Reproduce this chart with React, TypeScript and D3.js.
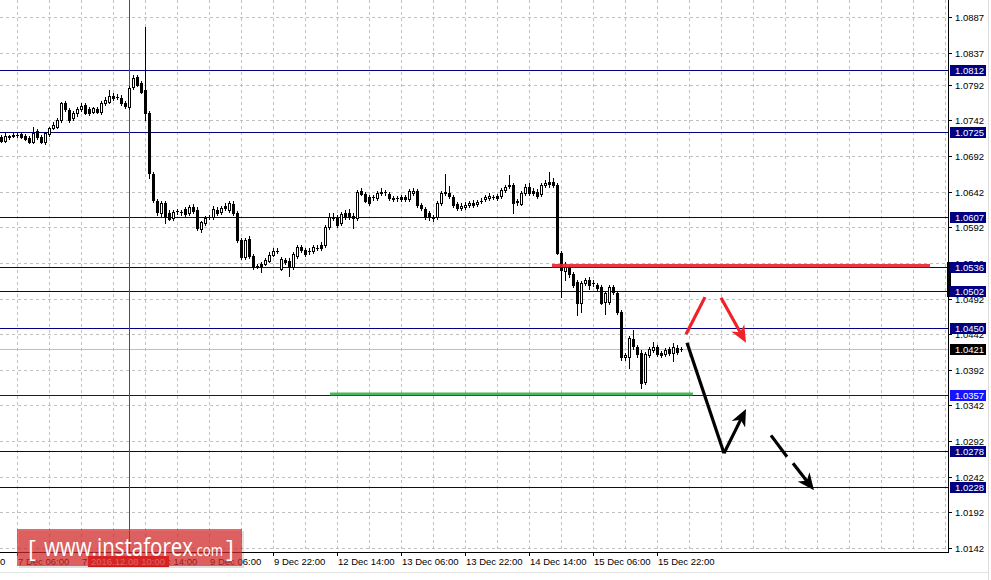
import React, { useEffect, useRef } from 'react';
import * as d3 from 'd3';

// EURUSD H1 bars, 7 Dec 02:00 .. 16 Dec 04:00 (weekend bars skipped) : [open, high, low, close]
const ohlc: [number, number, number, number][] = [
  [1.0719, 1.0722, 1.0712, 1.0713], [1.0713, 1.0726, 1.0712, 1.0720], [1.0720, 1.0722, 1.0716, 1.0719],
  [1.0720, 1.0724, 1.0719, 1.0722], [1.0722, 1.0724, 1.0719, 1.0722], [1.0723, 1.0726, 1.0717, 1.0719],
  [1.0720, 1.0723, 1.0714, 1.0716], [1.0717, 1.0720, 1.0710, 1.0712], [1.0712, 1.0733, 1.0710, 1.0724],
  [1.0727, 1.0730, 1.0716, 1.0719], [1.0719, 1.0722, 1.0710, 1.0712], [1.0712, 1.0726, 1.0709, 1.0724],
  [1.0723, 1.0733, 1.0720, 1.0731], [1.0731, 1.0740, 1.0730, 1.0736], [1.0733, 1.0745, 1.0731, 1.0743],
  [1.0743, 1.0768, 1.0740, 1.0766], [1.0766, 1.0769, 1.0755, 1.0758], [1.0757, 1.0759, 1.0740, 1.0743],
  [1.0745, 1.0755, 1.0742, 1.0752], [1.0752, 1.0761, 1.0748, 1.0758], [1.0758, 1.0766, 1.0755, 1.0762],
  [1.0764, 1.0766, 1.0751, 1.0752], [1.0758, 1.0761, 1.0749, 1.0752], [1.0754, 1.0761, 1.0752, 1.0759],
  [1.0758, 1.0761, 1.0752, 1.0754], [1.0754, 1.0769, 1.0751, 1.0766], [1.0766, 1.0775, 1.0764, 1.0771],
  [1.0768, 1.0785, 1.0766, 1.0776], [1.0776, 1.0781, 1.0771, 1.0774], [1.0775, 1.0779, 1.0772, 1.0775],
  [1.0774, 1.0778, 1.0764, 1.0766], [1.0766, 1.0769, 1.0759, 1.0762], [1.0761, 1.0790, 1.0758, 1.0788],
  [1.0789, 1.0806, 1.0786, 1.0801], [1.0803, 1.0806, 1.0790, 1.0792], [1.0794, 1.0797, 1.0780, 1.0782],
  [1.0785, 1.0873, 1.0743, 1.0752], [1.0752, 1.0755, 1.0661, 1.0668], [1.0667, 1.0669, 1.0627, 1.0630],
  [1.0629, 1.0632, 1.0609, 1.0613], [1.0612, 1.0629, 1.0608, 1.0626], [1.0626, 1.0629, 1.0598, 1.0606],
  [1.0612, 1.0616, 1.0602, 1.0604], [1.0605, 1.0616, 1.0602, 1.0613], [1.0615, 1.0618, 1.0611, 1.0615],
  [1.0613, 1.0616, 1.0609, 1.0614], [1.0618, 1.0620, 1.0608, 1.0611], [1.0612, 1.0623, 1.0609, 1.0620],
  [1.0620, 1.0625, 1.0612, 1.0615], [1.0616, 1.0620, 1.0588, 1.0591], [1.0589, 1.0601, 1.0586, 1.0599],
  [1.0598, 1.0608, 1.0595, 1.0605], [1.0606, 1.0609, 1.0604, 1.0606], [1.0606, 1.0622, 1.0604, 1.0618],
  [1.0616, 1.0620, 1.0609, 1.0612], [1.0613, 1.0622, 1.0611, 1.0619], [1.0622, 1.0626, 1.0616, 1.0619],
  [1.0616, 1.0629, 1.0613, 1.0626], [1.0625, 1.0629, 1.0609, 1.0612], [1.0612, 1.0615, 1.0571, 1.0574],
  [1.0574, 1.0577, 1.0547, 1.0550], [1.0550, 1.0577, 1.0547, 1.0574], [1.0575, 1.0580, 1.0549, 1.0552],
  [1.0552, 1.0554, 1.0534, 1.0536], [1.0538, 1.0541, 1.0535, 1.0538], [1.0541, 1.0543, 1.0529, 1.0537],
  [1.0541, 1.0549, 1.0539, 1.0546], [1.0545, 1.0557, 1.0543, 1.0553], [1.0553, 1.0563, 1.0552, 1.0559],
  [1.0559, 1.0563, 1.0556, 1.0559], [1.0534, 1.0550, 1.0532, 1.0547], [1.0546, 1.0549, 1.0541, 1.0543],
  [1.0545, 1.0549, 1.0524, 1.0536], [1.0536, 1.0557, 1.0534, 1.0554], [1.0552, 1.0567, 1.0549, 1.0564],
  [1.0564, 1.0567, 1.0557, 1.0560], [1.0560, 1.0563, 1.0552, 1.0554], [1.0559, 1.0563, 1.0555, 1.0559],
  [1.0559, 1.0567, 1.0556, 1.0564], [1.0563, 1.0567, 1.0560, 1.0563], [1.0567, 1.0571, 1.0560, 1.0563],
  [1.0567, 1.0595, 1.0564, 1.0592], [1.0592, 1.0612, 1.0589, 1.0606], [1.0605, 1.0612, 1.0602, 1.0605],
  [1.0605, 1.0609, 1.0592, 1.0595], [1.0598, 1.0613, 1.0595, 1.0611], [1.0612, 1.0616, 1.0604, 1.0606],
  [1.0612, 1.0618, 1.0603, 1.0606], [1.0608, 1.0612, 1.0591, 1.0605], [1.0605, 1.0644, 1.0602, 1.0642],
  [1.0643, 1.0647, 1.0637, 1.0639], [1.0639, 1.0642, 1.0627, 1.0629], [1.0634, 1.0637, 1.0623, 1.0626],
  [1.0634, 1.0637, 1.0630, 1.0634], [1.0633, 1.0643, 1.0630, 1.0640], [1.0642, 1.0647, 1.0637, 1.0640],
  [1.0641, 1.0644, 1.0637, 1.0641], [1.0639, 1.0642, 1.0630, 1.0633], [1.0633, 1.0636, 1.0629, 1.0632],
  [1.0633, 1.0636, 1.0629, 1.0633], [1.0634, 1.0637, 1.0629, 1.0632], [1.0634, 1.0637, 1.0629, 1.0632],
  [1.0632, 1.0645, 1.0629, 1.0643], [1.0640, 1.0647, 1.0637, 1.0643], [1.0643, 1.0646, 1.0620, 1.0623],
  [1.0623, 1.0626, 1.0616, 1.0619], [1.0618, 1.0620, 1.0603, 1.0606], [1.0612, 1.0615, 1.0602, 1.0606],
  [1.0606, 1.0609, 1.0601, 1.0605], [1.0606, 1.0629, 1.0604, 1.0626], [1.0626, 1.0643, 1.0623, 1.0640],
  [1.0640, 1.0667, 1.0637, 1.0641], [1.0640, 1.0650, 1.0633, 1.0636], [1.0634, 1.0637, 1.0620, 1.0623],
  [1.0625, 1.0627, 1.0616, 1.0619], [1.0619, 1.0626, 1.0616, 1.0622], [1.0620, 1.0627, 1.0617, 1.0623],
  [1.0623, 1.0629, 1.0620, 1.0626], [1.0626, 1.0630, 1.0620, 1.0623], [1.0625, 1.0630, 1.0622, 1.0627],
  [1.0629, 1.0633, 1.0626, 1.0629], [1.0632, 1.0637, 1.0629, 1.0634], [1.0633, 1.0640, 1.0630, 1.0636],
  [1.0634, 1.0637, 1.0632, 1.0635], [1.0636, 1.0639, 1.0630, 1.0633], [1.0636, 1.0647, 1.0633, 1.0644],
  [1.0644, 1.0651, 1.0642, 1.0649], [1.0650, 1.0666, 1.0647, 1.0651], [1.0651, 1.0654, 1.0612, 1.0626],
  [1.0628, 1.0632, 1.0623, 1.0629], [1.0625, 1.0643, 1.0623, 1.0640], [1.0640, 1.0653, 1.0637, 1.0649],
  [1.0649, 1.0654, 1.0637, 1.0640], [1.0643, 1.0647, 1.0637, 1.0640], [1.0642, 1.0645, 1.0633, 1.0636],
  [1.0639, 1.0654, 1.0636, 1.0651], [1.0651, 1.0658, 1.0649, 1.0654], [1.0656, 1.0670, 1.0649, 1.0652],
  [1.0656, 1.0661, 1.0648, 1.0651], [1.0651, 1.0654, 1.0554, 1.0556], [1.0556, 1.0559, 1.0494, 1.0532],
  [1.0531, 1.0543, 1.0518, 1.0536], [1.0535, 1.0538, 1.0522, 1.0526], [1.0526, 1.0529, 1.0508, 1.0511],
  [1.0515, 1.0518, 1.0469, 1.0486], [1.0486, 1.0517, 1.0473, 1.0514], [1.0514, 1.0521, 1.0511, 1.0518],
  [1.0518, 1.0522, 1.0505, 1.0511], [1.0514, 1.0518, 1.0510, 1.0514], [1.0511, 1.0514, 1.0504, 1.0507],
  [1.0508, 1.0511, 1.0484, 1.0486], [1.0487, 1.0501, 1.0470, 1.0500], [1.0487, 1.0511, 1.0484, 1.0508],
  [1.0508, 1.0511, 1.0498, 1.0501], [1.0500, 1.0503, 1.0470, 1.0473], [1.0473, 1.0476, 1.0406, 1.0410],
  [1.0410, 1.0415, 1.0406, 1.0413], [1.0410, 1.0440, 1.0395, 1.0437], [1.0435, 1.0448, 1.0421, 1.0425],
  [1.0424, 1.0427, 1.0410, 1.0414], [1.0416, 1.0420, 1.0366, 1.0374], [1.0375, 1.0417, 1.0372, 1.0414],
  [1.0413, 1.0424, 1.0410, 1.0421], [1.0420, 1.0431, 1.0417, 1.0424], [1.0424, 1.0427, 1.0411, 1.0414],
  [1.0416, 1.0418, 1.0410, 1.0413], [1.0414, 1.0423, 1.0411, 1.0420], [1.0421, 1.0424, 1.0413, 1.0416],
  [1.0416, 1.0430, 1.0405, 1.0424], [1.0423, 1.0427, 1.0414, 1.0417], [1.0421, 1.0424, 1.0418, 1.0421],
];

const priceTicks = [1.0887, 1.0837, 1.0792, 1.0742, 1.0692, 1.0642, 1.0592, 1.0542,
  1.0492, 1.0442, 1.0392, 1.0342, 1.0292, 1.0242, 1.0192, 1.0142];

// [bar index, label]
const timeLabels: [number, string][] = [
  [-12, '6 Dec 14:00'], [4, '7 Dec 06:00'], [20, '7 Dec 22:00'], [36, '8 Dec 14:00'],
  [52, '9 Dec 06:00'], [68, '9 Dec 22:00'], [84, '12 Dec 14:00'], [100, '13 Dec 06:00'],
  [116, '13 Dec 22:00'], [132, '14 Dec 14:00'], [148, '15 Dec 06:00'], [164, '15 Dec 22:00'],
];

const levels = [1.0812, 1.0725, 1.0607, 1.0536, 1.0502, 1.0450, 1.0357, 1.0278, 1.0228];
const lastPrice = 1.0421;
const crosshair: [number, string] = [32, '2016.12.08 10:00'];

// drawn objects, in [bar index, price]
const resistance: [number, number][] = [[137.75, 1.0538], [232.25, 1.0538]];
const support: [number, number][] = [[82.25, 1.0358], [173, 1.0358]];
const redUp: [number, number][] = [[171.25, 1.0442], [176, 1.0494]];
const redDown: [number, number][] = [[180, 1.0493], [186.25, 1.0430]];
const blackDown: [number, number][] = [[171.5, 1.0430], [180.75, 1.0275]];
const blackUp: [number, number][] = [[180.75, 1.0275], [186.25, 1.0337]];
const dash1: [number, number][] = [[192.5, 1.0300], [196.5, 1.0270]];
const dash2: [number, number][] = [[198, 1.0261], [203.25, 1.0223]];

const App = () => {
  const svgRef = useRef<SVGSVGElement>(null);

  useEffect(() => {
    const svg = d3.select(svgRef.current);
    svg.selectAll('*').remove();

    const width = 991;
    const height = 580;
    const plotRight = 948;
    const plotBottom = 552;
    const font = "'Liberation Sans', Arial, sans-serif";

    const x = d3.scaleLinear().domain([0, 1]).range([1, 5]); // 4px per bar
    const y = d3.scaleLinear().domain([1.0142, 1.0887]).range([548, 17]);
    const py = (v: number) => Math.round(y(v));

    svg.append('rect').attr('width', width).attr('height', height).attr('fill', '#fff');

    svg.append('defs').append('clipPath').attr('id', 'plot')
      .append('rect').attr('x', 0).attr('y', 0).attr('width', plotRight).attr('height', plotBottom);

    const plot = svg.append('g').attr('clip-path', 'url(#plot)');

    // grid
    const vGrid = d3.range(-4, 240, 8).filter(i => x(i) > 0 && x(i) < plotRight);
    plot.selectAll('.vg').data(vGrid).enter().append('line')
      .attr('x1', d => Math.round(x(d)) + 0.5).attr('x2', d => Math.round(x(d)) + 0.5)
      .attr('y1', 0).attr('y2', plotBottom)
      .attr('stroke', '#c0c0c0').attr('stroke-dasharray', '3,3');
    plot.selectAll('.hg').data(priceTicks).enter().append('line')
      .attr('x1', 0).attr('x2', plotRight)
      .attr('y1', d => py(d) + 0.5).attr('y2', d => py(d) + 0.5)
      .attr('stroke', '#c0c0c0').attr('stroke-dasharray', '3,3');

    // levels
    plot.selectAll('.lvl').data(levels).enter().append('line')
      .attr('x1', 0).attr('x2', plotRight)
      .attr('y1', d => py(d) + 0.5).attr('y2', d => py(d) + 0.5)
      .attr('stroke', d => (d === 1.0357 ? '#0000ff' : '#000080'));
    plot.append('line')
      .attr('x1', 0).attr('x2', plotRight)
      .attr('y1', py(lastPrice) + 0.5).attr('y2', py(lastPrice) + 0.5)
      .attr('stroke', '#c0c0c0');

    // crosshair
    plot.append('line')
      .attr('x1', x(crosshair[0]) + 0.5).attr('x2', x(crosshair[0]) + 0.5)
      .attr('y1', 0).attr('y2', plotBottom)
      .attr('stroke', '#d01818');

    // candles
    const bars = plot.append('g');
    ohlc.forEach(([o, h, l, c], i) => {
      const cx = Math.round(x(i));
      bars.append('line')
        .attr('x1', cx + 0.5).attr('x2', cx + 0.5)
        .attr('y1', py(h)).attr('y2', py(l) + 1)
        .attr('stroke', '#000');
      const top = py(Math.max(o, c));
      const bot = py(Math.min(o, c));
      if (c < o || bot - top < 2) {
        bars.append('rect').attr('x', cx - 1).attr('y', top)
          .attr('width', 3).attr('height', Math.max(1, bot - top + 1)).attr('fill', '#000');
      } else {
        bars.append('rect').attr('x', cx - 0.5).attr('y', top + 0.5)
          .attr('width', 2).attr('height', bot - top)
          .attr('fill', '#fff').attr('stroke', '#000');
      }
    });

    // support / resistance marks
    const line = d3.line<[number, number]>().x(d => x(d[0])).y(d => y(d[1]));
    plot.append('path').attr('d', line(resistance)).attr('stroke', '#e8242c')
      .attr('stroke-width', 3.5).attr('stroke-opacity', 0.9).attr('fill', 'none');
    plot.append('path').attr('d', line(support)).attr('stroke', '#33b04a')
      .attr('stroke-width', 3).attr('stroke-opacity', 0.9).attr('fill', 'none');

    const drawArrow = (pts: [number, number][], color: string, head: boolean) => {
      const [x1, y1] = [x(pts[0][0]), y(pts[0][1])];
      const [x2, y2] = [x(pts[1][0]), y(pts[1][1])];
      const len = Math.hypot(x2 - x1, y2 - y1);
      const ux = (x2 - x1) / len;
      const uy = (y2 - y1) / len;
      const hl = 17;
      const hw = 7.5;
      const end = head ? [x2 - ux * hl * 0.6, y2 - uy * hl * 0.6] : [x2, y2];
      plot.append('line')
        .attr('x1', x1).attr('y1', y1).attr('x2', end[0]).attr('y2', end[1])
        .attr('stroke', color).attr('stroke-width', 3.2);
      if (head) {
        const bx = x2 - ux * hl;
        const by = y2 - uy * hl;
        const pts2 = [
          [x2, y2],
          [bx - uy * hw, by + ux * hw],
          [x2 - ux * hl * 0.7, y2 - uy * hl * 0.7],
          [bx + uy * hw, by - ux * hw],
        ];
        plot.append('polygon').attr('points', pts2.map(p => p.join(',')).join(' ')).attr('fill', color);
      }
    };
    drawArrow(redUp, '#ee2229', false);
    drawArrow(redDown, '#ee2229', true);
    drawArrow(blackDown, '#000', false);
    drawArrow(blackUp, '#000', true);
    drawArrow(dash1, '#000', false);
    drawArrow(dash2, '#000', true);

    // frame
    svg.append('line').attr('x1', plotRight + 0.5).attr('x2', plotRight + 0.5)
      .attr('y1', 0).attr('y2', plotBottom + 1).attr('stroke', '#000');
    svg.append('line').attr('x1', 0).attr('x2', plotRight + 1)
      .attr('y1', plotBottom + 0.5).attr('y2', plotBottom + 0.5).attr('stroke', '#000');
    svg.append('line').attr('x1', 988.5).attr('x2', 988.5).attr('y1', 0).attr('y2', height).attr('stroke', '#dcdcdc');
    svg.append('line').attr('x1', 0).attr('x2', 988).attr('y1', 572.5).attr('y2', 572.5).attr('stroke', '#e4e4e4');

    // price axis
    svg.selectAll('.pt').data(priceTicks).enter().append('line')
      .attr('x1', plotRight).attr('x2', plotRight + 4)
      .attr('y1', d => py(d) + 0.5).attr('y2', d => py(d) + 0.5).attr('stroke', '#000');
    svg.selectAll('.pl').data(priceTicks).enter().append('text')
      .attr('x', 955).attr('y', d => py(d) + 4)
      .attr('font-family', font).attr('font-size', 9.5).attr('fill', '#000')
      .text(d => d.toFixed(4));

    svg.append('rect').attr('x', 947).attr('y', 262).attr('width', 4).attr('height', 35).attr('fill', '#000');

    const boxes = [...levels.map(v => ({ v, fill: v === 1.0357 ? '#1414ff' : '#000080' })), { v: lastPrice, fill: '#000' }];
    boxes.forEach(b => {
      svg.append('rect').attr('x', 950).attr('y', py(b.v) - 5).attr('width', 36).attr('height', 11).attr('fill', b.fill);
      svg.append('text').attr('x', 955).attr('y', py(b.v) + 4)
        .attr('font-family', font).attr('font-size', 9.5).attr('fill', '#fff')
        .text(b.v.toFixed(4));
    });

    // time axis
    svg.selectAll('.tt').data(timeLabels).enter().append('line')
      .attr('x1', d => x(d[0]) + 0.5).attr('x2', d => x(d[0]) + 0.5)
      .attr('y1', plotBottom).attr('y2', plotBottom + 4).attr('stroke', '#000');
    svg.selectAll('.tl').data(timeLabels).enter().append('text')
      .attr('x', d => x(d[0]) + 1).attr('y', 564.5)
      .attr('font-family', font).attr('font-size', 9.5).attr('fill', '#000')
      .text(d => d[1]);

    // crosshair time label
    svg.append('rect').attr('x', 88).attr('y', 556).attr('width', 81).attr('height', 11).attr('fill', '#e61e1e');
    svg.append('text').attr('x', 91).attr('y', 564.5)
      .attr('font-family', font).attr('font-size', 9.5).attr('fill', '#fff')
      .text(crosshair[1]);

    // watermark
    const wm = svg.append('g');
    wm.append('rect').attr('x', 19).attr('y', 531).attr('width', 225).attr('height', 37)
      .attr('fill', '#000').attr('opacity', 0.12);
    wm.append('rect').attr('x', 17).attr('y', 529).attr('width', 225).attr('height', 37)
      .attr('fill', '#dc2a2a').attr('opacity', 0.7);
    const wt = wm.append('g').attr('font-family', "'Open Sans', sans-serif").attr('fill', '#fff');
    wt.append('text').attr('x', 28).attr('y', 557).attr('font-size', 24).text('[');
    wt.append('text').attr('x', 44).attr('y', 556).attr('font-size', 26)
      .attr('textLength', 149).attr('lengthAdjust', 'spacingAndGlyphs').text('www.instaforex');
    wt.append('text').attr('x', 193).attr('y', 556).attr('font-size', 17)
      .attr('textLength', 30).attr('lengthAdjust', 'spacingAndGlyphs').text('.com');
    wt.append('text').attr('x', 226).attr('y', 557).attr('font-size', 24).text(']');
  }, []);

  return (
    <svg ref={svgRef} width={991} height={580} style={{ position: 'absolute', left: 0, top: 0 }} />
  );
};

export default App;
